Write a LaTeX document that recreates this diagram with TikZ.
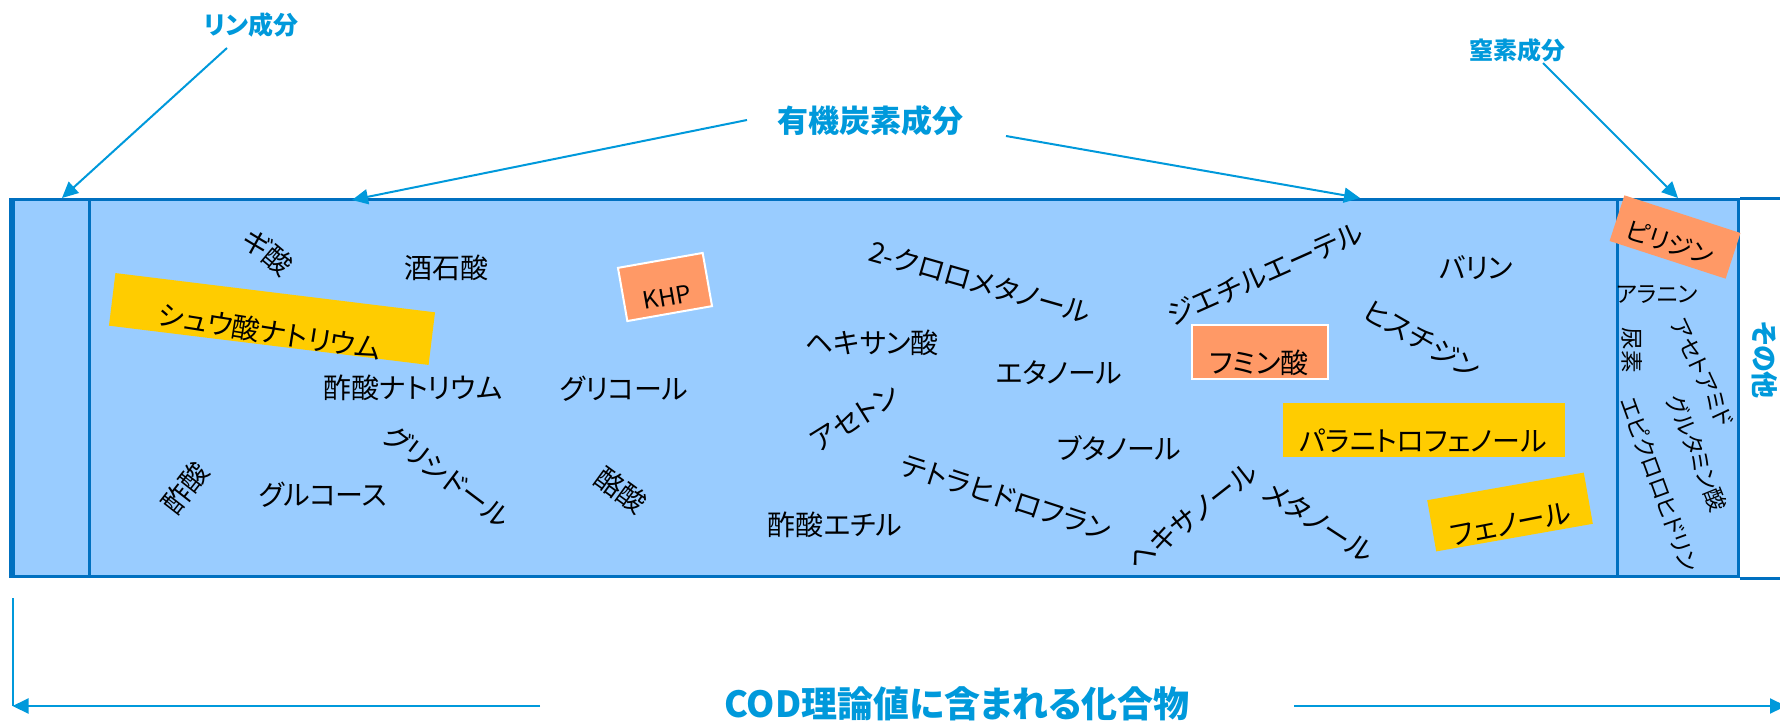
\documentclass[tikz,border=0pt]{standalone}
\usepackage{fontspec}
\newfontfamily\jp[RawFeature=+palt]{Noto Sans CJK JP}
\usetikzlibrary{arrows.meta}
\definecolor{fillblue}{RGB}{153,204,255}
\definecolor{edgeblue}{RGB}{0,112,192}
\definecolor{cyanlbl}{RGB}{0,153,219}
\definecolor{orangebox}{RGB}{255,153,102}
\definecolor{yellowbox}{RGB}{255,204,0}
\tikzset{
  cmp/.style={font=\jp\fontsize{14}{16}\selectfont, inner sep=0pt, text=black},
  cmpsmall/.style={font=\jp\fontsize{11.3}{13}\selectfont, inner sep=0pt, text=black},
  lbl/.style={font=\jp\bfseries\fontsize{12.5}{14}\selectfont, text=cyanlbl, inner sep=0pt},
  arr/.style={draw=cyanlbl, line width=1pt, -{Triangle[length=8pt,width=7.5pt]}},
  plain/.style={draw=cyanlbl, line width=1pt},
  region/.style={draw=edgeblue, fill=fillblue, line width=1.5pt, inner sep=0pt, anchor=north west, minimum height=188.5pt},
  edge/.style={draw=edgeblue, line width=1.5pt},
  orangehl/.style={fill=orangebox, draw=white, line width=1pt, inner sep=0pt},
  yellowhl/.style={fill=yellowbox, inner sep=0pt},
}
\begin{document}
\begin{tikzpicture}[x=0.5pt,y=-0.5pt]
\useasboundingbox (0,0) rectangle (1780,722);

% strip regions
\node[region, minimum width=39.5pt] (pbox) at (9,198) {};
\node[region, minimum width=764pt] (cbox) at (88,198) {};
\node[region, minimum width=60.5pt] (nbox) at (1616,198) {};
\draw[edge] (nbox.north east) -- ++(70,0);
\draw[edge] (nbox.south east) -- ++(70,0);
\draw[edge] ([xshift=2pt]pbox.north west) -- ([xshift=2pt]pbox.south west);

% top labels and arrows
\node[lbl] (lin) at (251,25) {リン成分};
\node[lbl, font=\jp\bfseries\fontsize{15.5}{18}\selectfont] (org) at (870,121) {有機炭素成分};
\node[lbl, font=\jp\bfseries\fontsize{12}{14}\selectfont] (nit) at (1517,50) {窒素成分};
\node[lbl, font=\jp\bfseries\fontsize{13.5}{16}\selectfont, rotate=-90] (other) at (1765,360) {その他};

\coordinate (linS) at (227,48);
\coordinate (linT) at (62,198);
\coordinate (orgLS) at (747,120);
\coordinate (orgLT) at (352,200);
\coordinate (orgRS) at (1006,136);
\coordinate (orgRT) at (1360,198);
\coordinate (nitS) at (1543,63);
\coordinate (nitT) at (1678,198);
\draw[arr] (linS) -- (linT);
\draw[arr] (orgLS) -- (orgLT);
\draw[arr] (orgRS) -- (orgRT);
\draw[arr] (nitS) -- (nitT);

% highlighted boxes
\node[yellowhl, minimum width=161pt, minimum height=26.5pt, rotate=-7] (b1) at (272,319) {};
\node[orangehl, minimum width=43pt, minimum height=27pt, rotate=10] (b2) at (665,287) {};
\node[orangehl, minimum width=68pt, minimum height=27pt] (b3) at (1260,352) {};
\node[yellowhl, minimum width=141pt, minimum height=27pt] (b4) at (1424,430) {};
\node[yellowhl, minimum width=79.5pt, minimum height=26pt, rotate=10] (b5) at (1510,512) {};
\node[fill=orangebox, inner sep=0pt, minimum width=61pt, minimum height=24pt, rotate=-18] (b6) at (1675,237) {};

% compounds - organic carbon
\node[cmp, rotate=-40] (c1) at (268,252) {ギ酸};
\node[cmp] (c2) at (446,268) {酒石酸};
\node[cmp, rotate=-9] (c3) at (270,332) {シュウ酸ナトリウム};
\node[cmp] (c4) at (413,388) {酢酸ナトリウム};
\node[cmp] (c5) at (624,389) {グリコール};
\node[cmp, rotate=-37] (c6) at (447,476) {グリシドール};
\node[cmp, rotate=52] (c7) at (185,488) {酢酸};
\node[cmp] (c8) at (323,495) {グルコース};
\node[cmp, font=\jp\fontsize{12}{14}\selectfont, rotate=10] (c9) at (667,297) {KHP};
\node[cmp, rotate=-16] (c10) at (980,282) {2-クロロメタノール};
\node[cmp] (c11) at (872,343) {ヘキサン酸};
\node[cmp] (c12) at (1059,373) {エタノール};
\node[cmp, rotate=32] (c13) at (855,418) {アセトン};
\node[cmp] (c14) at (1119,448) {ブタノール};
\node[cmp, rotate=-36] (c15) at (621,490) {酪酸};
\node[cmp, rotate=-18] (c16) at (1006,498) {テトラヒドロフラン};
\node[cmp] (c17) at (835,525) {酢酸エチル};
\node[cmp, rotate=38] (c18) at (1192,516) {ヘキサノール};
\node[cmp, rotate=-33] (c19) at (1319,522) {メタノール};
\node[cmp, rotate=24] (c20) at (1265,274) {ジエチルエーテル};
\node[cmp] (c21) at (1476,268) {バリン};
\node[cmp] (c22) at (1259,363) {フミン酸};
\node[cmp, rotate=-30] (c23) at (1422,340) {ヒスチジン};
\node[cmp] (c24) at (1423,441) {パラニトロフェノール};
\node[cmp, rotate=11] (c25) at (1511,524) {フェノール};

% compounds - nitrogen
\node[cmp, font=\jp\fontsize{12.5}{14}\selectfont, rotate=-18] (n1) at (1670,243) {ピリジン};
\node[cmpsmall] (n2) at (1657,295) {アラニン};
\node[cmpsmall, rotate=-90] (n3) at (1632,350) {尿素};
\node[cmpsmall, rotate=-65] (n4) at (1702,373) {アセトアミド};
\node[cmpsmall, rotate=-68] (n5) at (1697,453) {グルタミン酸};
\node[cmpsmall, rotate=-70] (n6) at (1659,484) {エピクロロヒドリン};

% bottom
\node[lbl, font=\jp\bfseries\fontsize{18}{21}\selectfont] (cod) at (957,704) {COD理論値に含まれる化合物};
\coordinate (vTop) at (12.5,598);
\coordinate (vBot) at (12.5,706);
\coordinate (lS) at (540,706);
\coordinate (rS) at (1294,706);
\coordinate (rT) at (1786,706);
\draw[plain] (vTop) -- (vBot);
\draw[arr] (lS) -- (vBot);
\draw[arr] (rS) -- (rT);
\end{tikzpicture}
\end{document}
